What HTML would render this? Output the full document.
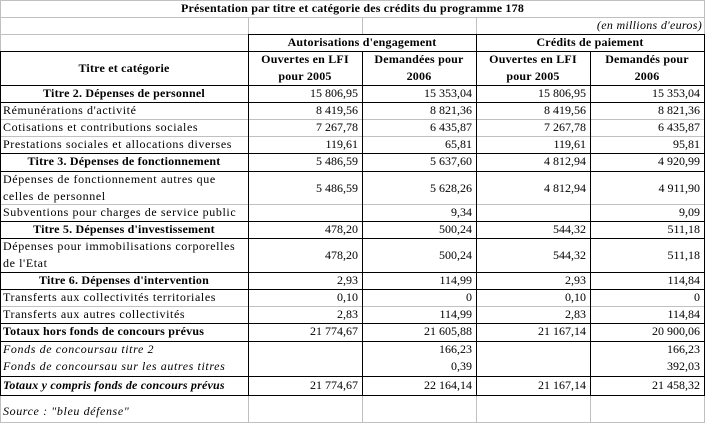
<!DOCTYPE html>
<html><head><meta charset="utf-8"><style>
*{margin:0;padding:0;box-sizing:border-box}
body{width:705px;height:423px;background:#fff;position:relative;overflow:hidden;font-family:"Liberation Serif",serif;font-size:12px;color:#000}
.h{position:absolute;height:1px}
.v{position:absolute;width:1px}
.k{background:#000}.g{background:#c0c0c0}
.t{position:absolute;line-height:17px;white-space:nowrap;letter-spacing:0.6px}
.b{font-weight:bold;letter-spacing:0.2px}
.i{font-style:italic}
.c{text-align:center}
.r{text-align:right}
</style></head><body>
<div class="h g" style="top:0;left:0;width:705px"></div>
<div class="h g" style="top:17px;left:0;width:705px"></div>
<div class="h g" style="top:34px;left:0;width:248px"></div>
<div class="v g" style="left:0;top:0;height:51px"></div>
<div class="v g" style="left:704px;top:0;height:34px"></div>
<div class="v g" style="left:248px;top:17px;height:17px"></div>
<div class="v g" style="left:362px;top:17px;height:17px"></div>
<div class="v g" style="left:476px;top:17px;height:17px"></div>
<div class="h g" style="top:119px;left:0;width:705px"></div>
<div class="h g" style="top:136px;left:0;width:705px"></div>
<div class="h g" style="top:204px;left:0;width:705px"></div>
<div class="h g" style="top:306px;left:0;width:705px"></div>
<div class="h g" style="top:422px;left:0;width:705px"></div>
<div class="v g" style="left:0;top:395px;height:28px"></div>
<div class="v g" style="left:248px;top:395px;height:28px"></div>
<div class="v g" style="left:362px;top:395px;height:28px"></div>
<div class="v g" style="left:476px;top:395px;height:28px"></div>
<div class="v g" style="left:590px;top:395px;height:28px"></div>
<div class="v g" style="left:704px;top:395px;height:28px"></div>
<div class="h k" style="top:34px;left:248px;width:457px"></div>
<div class="h k" style="top:51px;left:0;width:705px"></div>
<div class="h k" style="top:85px;left:0;width:705px"></div>
<div class="h k" style="top:102px;left:0;width:705px"></div>
<div class="h k" style="top:153px;left:0;width:705px"></div>
<div class="h k" style="top:171px;left:0;width:705px"></div>
<div class="h k" style="top:221px;left:0;width:705px"></div>
<div class="h k" style="top:238px;left:0;width:705px"></div>
<div class="h k" style="top:272px;left:0;width:705px"></div>
<div class="h k" style="top:289px;left:0;width:705px"></div>
<div class="h k" style="top:323px;left:0;width:705px"></div>
<div class="h k" style="top:341px;left:0;width:705px"></div>
<div class="h k" style="top:376px;left:0;width:705px"></div>
<div class="h k" style="top:395px;left:0;width:705px"></div>
<div class="v k" style="left:0;top:51px;height:345px"></div>
<div class="v k" style="left:248px;top:34px;height:362px"></div>
<div class="v k" style="left:362px;top:51px;height:345px"></div>
<div class="v k" style="left:476px;top:34px;height:362px"></div>
<div class="v k" style="left:590px;top:51px;height:345px"></div>
<div class="v k" style="left:704px;top:34px;height:362px"></div>

<div class="t b c" style="top:0;left:0;width:705px">Présentation par titre et catégorie des crédits du programme 178</div>
<div class="t i r" style="top:17px;left:476px;width:226px;letter-spacing:0.3px">(en millions d'euros)</div>
<div class="t b c" style="top:34px;left:248px;width:228px">Autorisations d'engagement</div>
<div class="t b c" style="top:34px;left:476px;width:228px">Crédits de paiement</div>
<div class="t b c" style="top:60px;left:0;width:248px">Titre et catégorie</div>
<div class="t b c" style="top:51px;left:248px;width:114px">Ouvertes en LFI<br>pour 2005</div>
<div class="t b c" style="top:51px;left:362px;width:114px">Demandées pour<br>2006</div>
<div class="t b c" style="top:51px;left:476px;width:114px">Ouvertes en LFI<br>pour 2005</div>
<div class="t b c" style="top:51px;left:590px;width:114px">Demandés pour<br>2006</div>

<div id="rows"></div>
<script>
var R=[
[85,"Titre 2. Dépenses de personnel","bc",["15 806,95","15 353,04","15 806,95","15 353,04"]],
[102,"Rémunérations d'activité","",["8 419,56","8 821,36","8 419,56","8 821,36"]],
[119,"Cotisations et contributions sociales","",["7 267,78","6 435,87","7 267,78","6 435,87"]],
[136,"Prestations sociales et allocations diverses","",["119,61","65,81","119,61","95,81"]],
[153,"Titre 3. Dépenses de fonctionnement","bc",["5 486,59","5 637,60","4 812,94","4 920,99"]],
[171,"Dépenses de fonctionnement autres que<br>celles de personnel","",["5 486,59","5 628,26","4 812,94","4 911,90"],1],
[204,"Subventions pour charges de service public","",["","9,34","","9,09"]],
[221,"Titre 5. Dépenses d'investissement","bc",["478,20","500,24","544,32","511,18"]],
[238,"Dépenses pour immobilisations corporelles<br>de l'Etat","",["478,20","500,24","544,32","511,18"],1],
[272,"Titre 6. Dépenses d'intervention","bc",["2,93","114,99","2,93","114,84"]],
[289,"Transferts aux collectivités territoriales","",["0,10","0","0,10","0"]],
[306,"Transferts aux autres collectivités","",["2,83","114,99","2,83","114,84"]],
[323,"Totaux hors fonds de concours prévus","b",["21 774,67","21 605,88","21 167,14","20 900,06"]],
[341,"Fonds de concoursau titre 2","i",["","166,23","","166,23"]],
[358,"Fonds de concoursau sur les autres titres","i",["","0,39","","392,03"]],
[377,"Totaux y compris fonds de concours prévus","bi",["21 774,67","22 164,14","21 167,14","21 458,32"]],
[403,"Source : \"bleu défense\"","i",["","","",""]]
];
var h="",xs=[248,362,476,590];
R.forEach(function(r){
 var cls="t";if(r[2].indexOf("b")>=0)cls+=" b";if(r[2].indexOf("i")>=0)cls+=" i";
 var c=r[2].indexOf("c")>=0;
 h+='<div class="'+cls+(c?' c':'')+'" style="top:'+r[0]+'px;left:'+(c?0:3)+'px;width:'+(c?248:244)+'px">'+r[1]+'</div>';
 var ny=r[4]?r[0]+9:r[0];
 r[3].forEach(function(v,j){if(v)h+='<div class="t r" style="top:'+ny+'px;left:'+xs[j]+'px;width:110px;letter-spacing:0">'+v+'</div>';});
});
document.getElementById("rows").outerHTML=h;
</script>
</body></html>
